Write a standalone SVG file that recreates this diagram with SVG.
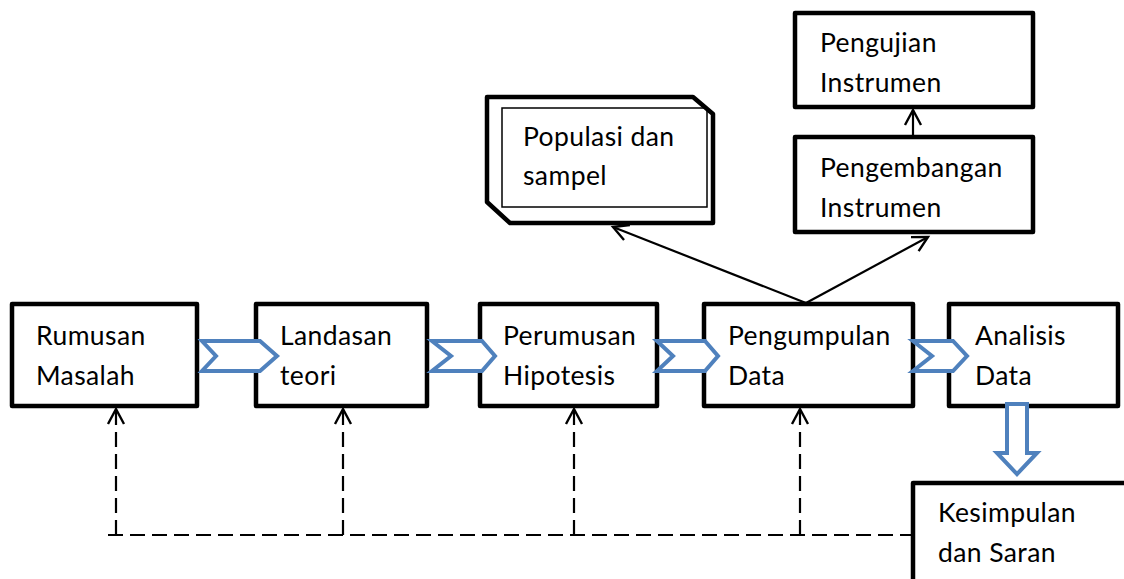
<svg xmlns="http://www.w3.org/2000/svg" width="1124" height="579" viewBox="0 0 1124 579">
<defs>
<style>
.box{fill:#fff;stroke:#000;stroke-width:4.5;stroke-linejoin:round}
.thin{fill:none;stroke:#000;stroke-width:1.5}
.t{font-family:Lato,"Open Sans","Liberation Sans",sans-serif;font-size:26.5px;letter-spacing:0.4px;fill:#000}
.chev{fill:#fff;stroke:#4F81BD;stroke-width:4;stroke-linejoin:miter}
.line{fill:none;stroke:#000;stroke-width:2.2}
.dash{fill:none;stroke:#000;stroke-width:2.2;stroke-dasharray:15 7}
</style>
<marker id="open" viewBox="0 0 24 24" refX="21" refY="12" markerWidth="24" markerHeight="24" markerUnits="userSpaceOnUse" orient="auto">
<path d="M6,4 L21,12 L6,20" fill="none" stroke="#000" stroke-width="2.4"/>
</marker>
</defs>
<rect width="1124" height="579" fill="#fff"/>
<g id="connectors">
<line class="line" x1="806" y1="303" x2="613" y2="227" marker-end="url(#open)"/>
<line class="line" x1="806" y1="303" x2="928" y2="237" marker-end="url(#open)"/>
<line class="line" x1="913" y1="136" x2="913" y2="110" marker-end="url(#open)"/>
<polyline class="dash" points="108,535 913,535"/>
<line class="dash" x1="116" y1="535" x2="116" y2="409" marker-end="url(#open)"/>
<line class="dash" x1="343" y1="535" x2="343" y2="409" marker-end="url(#open)"/>
<line class="dash" x1="574" y1="535" x2="574" y2="409" marker-end="url(#open)"/>
<line class="dash" x1="800" y1="535" x2="800" y2="409" marker-end="url(#open)"/>
</g>
<g id="n-rumusan"><rect class="box" x="12" y="304" width="185" height="102"/><text class="t" x="36" y="345">Rumusan</text><text class="t" x="36" y="385">Masalah</text></g>
<g id="n-landasan"><rect class="box" x="256" y="304" width="171" height="102"/><text class="t" x="280" y="345">Landasan</text><text class="t" x="280" y="385">teori</text></g>
<g id="n-perumusan"><rect class="box" x="480" y="304" width="177" height="102"/><text class="t" x="503" y="345">Perumusan</text><text class="t" x="503" y="385">Hipotesis</text></g>
<g id="n-pengumpulan"><rect class="box" x="704" y="304" width="209" height="102"/><text class="t" x="728" y="345">Pengumpulan</text><text class="t" x="728" y="385">Data</text></g>
<g id="n-analisis"><rect class="box" x="949" y="304" width="169" height="102"/><text class="t" x="975" y="345">Analisis</text><text class="t" x="975" y="385">Data</text></g>
<g id="n-kesimpulan"><rect class="box" x="913" y="483" width="220" height="110"/><text class="t" x="938" y="522">Kesimpulan</text><text class="t" x="938" y="562">dan Saran</text></g>
<g id="n-pengujian"><rect class="box" x="795" y="13" width="238" height="94"/><text class="t" x="820" y="52">Pengujian</text><text class="t" x="820" y="92">Instrumen</text></g>
<g id="n-pengembangan"><rect class="box" x="795" y="137" width="238" height="95"/><text class="t" x="820" y="177">Pengembangan</text><text class="t" x="820" y="217">Instrumen</text></g>
<g id="n-populasi">
<path class="box" d="M487,97 L693,97 L713,114 L713,223 L510,223 L487,202 Z"/>
<rect class="thin" x="502" y="108" width="205" height="99"/>
<text class="t" x="523" y="146">Populasi dan</text><text class="t" x="523" y="185">sampel</text>
</g>
<g id="chevrons">
<path class="chev" d="M202,341 L260,341 L277,356 L260,371 L202,371 L216,356 Z"/>
<path class="chev" d="M432,341 L482,341 L495,356 L482,371 L432,371 L451,356 Z"/>
<path class="chev" d="M657,341 L705,341 L718,356 L705,371 L657,371 L673,356 Z"/>
<path class="chev" d="M913,341 L953,341 L967,356 L953,371 L913,371 L932,356 Z"/>
<path class="chev" d="M1007,404 L1027,404 L1027,453 L1037,453 L1017,474 L997,453 L1007,453 Z"/>
</g>
</svg>
